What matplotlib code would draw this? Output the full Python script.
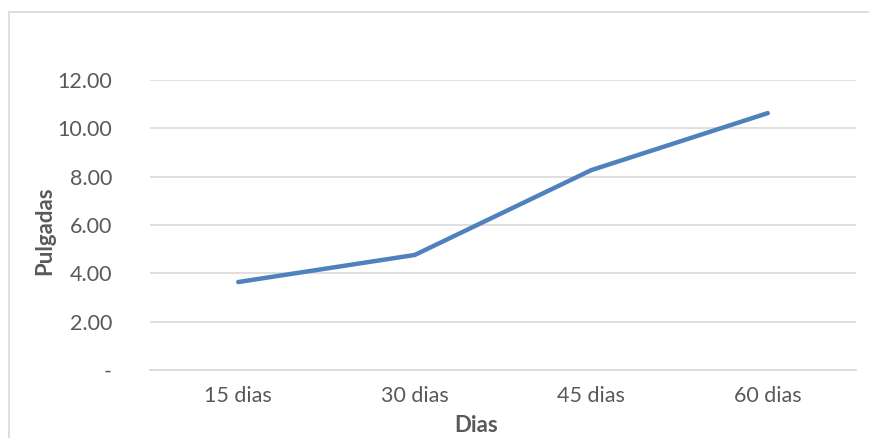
import matplotlib.pyplot as plt
from matplotlib.patches import Rectangle

categories = ["15 dias", "30 dias", "45 dias", "60 dias"]
pulgadas = [3.64, 4.76, 8.27, 10.63]
y_ticks = [0, 2, 4, 6, 8, 10, 12]
y_tick_labels = ["-", "2.00", "4.00", "6.00", "8.00", "10.00", "12.00"]

plt.rcParams['font.family'] = ['Lato', 'DejaVu Sans']
text_color = "#595959"
grid_color = "#D9D9D9"

W, H = 870, 438
fig = plt.figure(figsize=(W / 100, H / 100), dpi=100)
fig.patch.set_facecolor("white")

# chart frame
fig.patches.append(Rectangle((9.5 / W, -0.05), 1.1, 1 - 11.5 / H + 0.05,
                             transform=fig.transFigure, fill=False,
                             edgecolor="#D9D9D9", linewidth=1.2))

ax = fig.add_axes([150 / W, 1 - 370 / H, 706 / W, 290 / H])
x = list(range(len(categories)))
ax.plot(x, pulgadas, color="#4F81BD", linewidth=3.2, solid_capstyle="round",
        solid_joinstyle="round", zorder=3)

ax.set_xlim(-0.5, len(categories) - 0.5)
ax.set_ylim(0, 12)
ax.set_yticks(y_ticks)
ax.set_yticklabels(y_tick_labels)
ax.set_xticks(x)
ax.set_xticklabels(categories)
ax.grid(axis="y", color=grid_color, linewidth=1.2)
ax.set_axisbelow(True)
for s in ["top", "right", "left"]:
    ax.spines[s].set_visible(False)
ax.spines["bottom"].set_color(grid_color)
ax.spines["bottom"].set_linewidth(1.2)
ax.tick_params(axis="both", length=0, labelsize=15.5, labelcolor=text_color)
ax.tick_params(axis="y", pad=38 * 0.72)
ax.tick_params(axis="x", pad=16 * 0.72)

# axis titles
fig.text(476 / W, 1 - 432 / H, "Dias", fontsize=16, fontweight="bold",
         color=text_color, ha="center", va="baseline")
fig.text(45 / W, 1 - 231 / H, "Pulgadas", fontsize=16, fontweight="bold",
         color=text_color, ha="center", va="center", rotation=90)

fig.savefig("out.png", dpi=100)
